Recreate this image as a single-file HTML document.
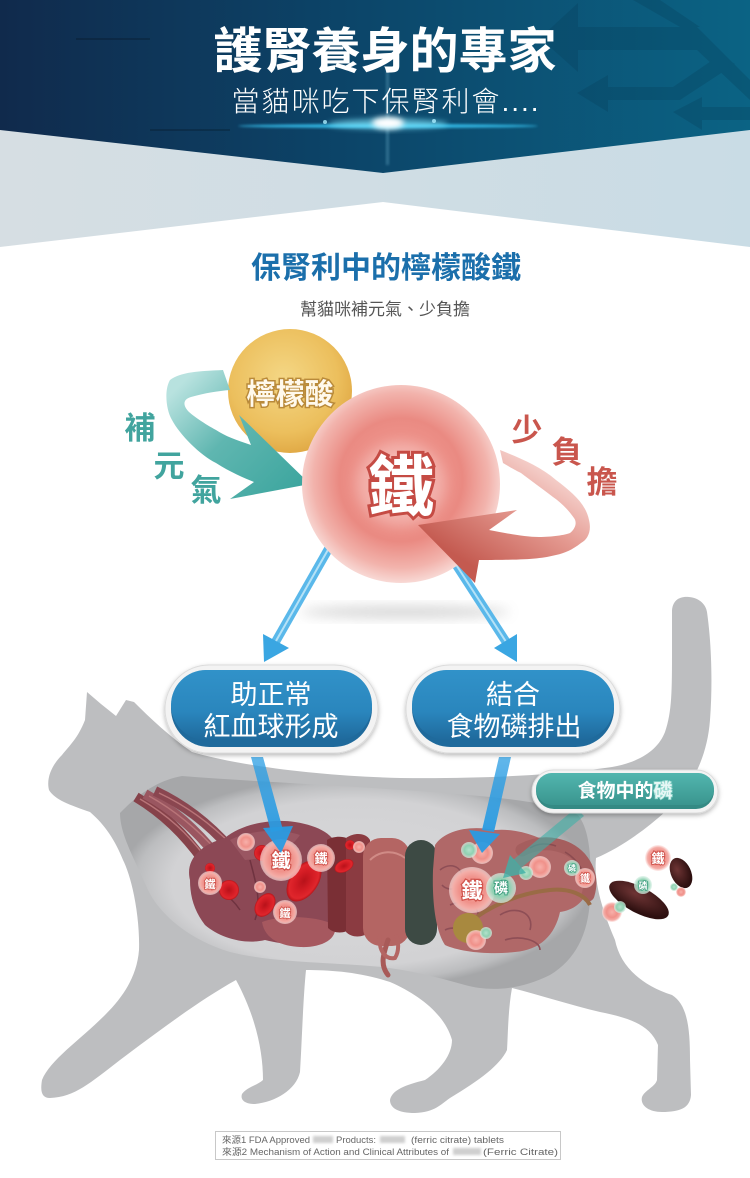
<!DOCTYPE html>
<html><head><meta charset="utf-8"><style>
html,body{margin:0;padding:0;background:#fff;}
body{width:750px;height:1178px;overflow:hidden;}
svg{display:block;}
text{font-family:"Liberation Sans","Noto Sans CJK TC",sans-serif;}
</style></head><body>
<svg width="750" height="1178" viewBox="0 0 750 1178" xmlns="http://www.w3.org/2000/svg">
<defs>
<linearGradient id="hdr" x1="0" y1="0" x2="1" y2="0"><stop offset="0" stop-color="#102a4c"/><stop offset="0.45" stop-color="#0c4468"/><stop offset="1" stop-color="#0b6384"/></linearGradient>
<linearGradient id="lgt" x1="0" y1="0" x2="1" y2="0"><stop offset="0" stop-color="#d6dee3"/><stop offset="1" stop-color="#c9dce5"/></linearGradient>
<radialGradient id="yel" cx="0.45" cy="0.4" r="0.62"><stop offset="0" stop-color="#f4d785"/><stop offset="0.7" stop-color="#ecbf5d"/><stop offset="1" stop-color="#e0a844"/></radialGradient>
<radialGradient id="pnk" cx="0.5" cy="0.48" r="0.52"><stop offset="0" stop-color="#f6b6af"/><stop offset="0.3" stop-color="#ef968e"/><stop offset="0.6" stop-color="#ea8a82"/><stop offset="0.85" stop-color="#f2b3ac"/><stop offset="1" stop-color="#f8d9d5"/></radialGradient>
<linearGradient id="tealA" gradientUnits="userSpaceOnUse" x1="190" y1="375" x2="300" y2="485"><stop offset="0" stop-color="#b8e2df"/><stop offset="0.45" stop-color="#5fb6b0"/><stop offset="1" stop-color="#3ea69f"/></linearGradient>
<linearGradient id="redA" gradientUnits="userSpaceOnUse" x1="540" y1="455" x2="470" y2="565"><stop offset="0" stop-color="#f8dad6"/><stop offset="0.45" stop-color="#e49990"/><stop offset="1" stop-color="#c45a50"/></linearGradient>
<linearGradient id="box" x1="0" y1="0" x2="0" y2="1"><stop offset="0" stop-color="#3192c9"/><stop offset="0.6" stop-color="#2a86bd"/><stop offset="1" stop-color="#1f6a9c"/></linearGradient>
<linearGradient id="tpill" x1="0" y1="0" x2="0" y2="1"><stop offset="0" stop-color="#52b6af"/><stop offset="1" stop-color="#3a958f"/></linearGradient>
<radialGradient id="cav" cx="0.5" cy="0.5" r="0.5"><stop offset="0" stop-color="#d8d8da"/><stop offset="0.78" stop-color="#d2d2d4"/><stop offset="0.93" stop-color="#bcbdbf"/><stop offset="1" stop-color="#a6a7a9"/></radialGradient>
<radialGradient id="bub" cx="0.5" cy="0.5" r="0.5"><stop offset="0" stop-color="#f7b0aa"/><stop offset="0.55" stop-color="#f0918a"/><stop offset="0.82" stop-color="#f4ada7"/><stop offset="1" stop-color="#fde3e1" stop-opacity="0.6"/></radialGradient>
<radialGradient id="gbub" cx="0.5" cy="0.5" r="0.5"><stop offset="0" stop-color="#b3e2cb"/><stop offset="0.6" stop-color="#8fd1b2"/><stop offset="1" stop-color="#d9f1e6" stop-opacity="0.7"/></radialGradient>
<radialGradient id="rbc" cx="0.5" cy="0.5" r="0.5"><stop offset="0" stop-color="#b8121a"/><stop offset="0.5" stop-color="#d41c24"/><stop offset="0.85" stop-color="#e0262c"/><stop offset="1" stop-color="#b5141a"/></radialGradient>
<radialGradient id="poo" cx="0.4" cy="0.35" r="0.6"><stop offset="0" stop-color="#6e3434"/><stop offset="1" stop-color="#2e1010"/></radialGradient>
<linearGradient id="blu" x1="0" y1="0" x2="0" y2="1"><stop offset="0" stop-color="#2d9fe4" stop-opacity="0.75"/><stop offset="1" stop-color="#2a9be2" stop-opacity="0.95"/></linearGradient>
<filter id="b6" x="-50%" y="-50%" width="200%" height="200%"><feGaussianBlur stdDeviation="6"/></filter>
<filter id="b3" x="-50%" y="-50%" width="200%" height="200%"><feGaussianBlur stdDeviation="3"/></filter>
<filter id="b1" x="-50%" y="-50%" width="200%" height="200%"><feGaussianBlur stdDeviation="1.2"/></filter>
<filter id="sh" x="-20%" y="-20%" width="140%" height="150%"><feDropShadow dx="0" dy="2" stdDeviation="2.5" flood-color="#000" flood-opacity="0.28"/></filter>
</defs>

<!-- HEADER -->
<rect x="0" y="0" width="750" height="260" fill="#fff"/>
<polygon points="0,120 750,120 750,247 383,202 0,247" fill="url(#lgt)"/>
<polygon points="0,0 750,0 750,130 383,173 0,130" fill="url(#hdr)"/>
<g fill="#073d58" opacity="0.28">
<polygon points="540,38 578,3 578,27 697,27 750,80 750,100 697,50 578,50 578,72"/>
<polygon points="577,93 608,75 608,87 673,87 720,55 735,64 680,100 608,100 608,112"/>
<polygon points="673,112 702,97 702,107 750,107 750,120 702,120 702,130"/>
<polygon points="633,0 660,0 700,27 680,27"/>
</g>
<g opacity="0.18" stroke="#000" stroke-width="2">
<line x1="76" y1="39" x2="150" y2="39"/><line x1="150" y1="130" x2="230" y2="130"/>
</g>
<rect x="386" y="70" width="3" height="95" fill="#9fe6ff" opacity="0.25" filter="url(#b1)"/>
<ellipse cx="388" cy="126" rx="150" ry="2" fill="#3ad0ff" opacity="0.8" filter="url(#b1)"/>
<ellipse cx="388" cy="124" rx="60" ry="5" fill="#7fe8ff" opacity="0.7" filter="url(#b3)"/>
<ellipse cx="388" cy="123" rx="16" ry="6" fill="#ffffff" filter="url(#b3)"/>
<circle cx="325" cy="122" r="2" fill="#aef" opacity="0.8"/><circle cx="434" cy="121" r="2" fill="#aef" opacity="0.8"/>
<text x="385" y="68" font-size="49" font-weight="700" fill="#fff" text-anchor="middle">護腎養身的專家</text>
<text x="386" y="111" font-size="28" font-weight="300" fill="#fff" text-anchor="middle" letter-spacing="2">當貓咪吃下保腎利會....</text>

<!-- SECTION TITLE -->
<text x="386" y="278" font-size="30" font-weight="700" fill="#1b6fab" text-anchor="middle">保腎利中的檸檬酸鐵</text>
<text x="385" y="315" font-size="17" fill="#555" text-anchor="middle">幫貓咪補元氣、少負擔</text>

<!-- shadow under big circle -->
<ellipse cx="405" cy="612" rx="105" ry="6" fill="#888" opacity="0.35" filter="url(#b6)"/>

<!-- top blue arrows -->
<g>
<line x1="329" y1="548" x2="272" y2="648" stroke="#5ab8ea" stroke-width="9"/>
<line x1="329" y1="548" x2="272" y2="648" stroke="#b5e2f7" stroke-width="2"/>
<polygon points="263,634 289,648 264,662" fill="#3aa6e2"/>
<line x1="455" y1="563" x2="512" y2="651" stroke="#5ab8ea" stroke-width="9"/>
<line x1="455" y1="563" x2="512" y2="651" stroke="#b5e2f7" stroke-width="2"/>
<polygon points="517,634 494,648 517,662" fill="#3aa6e2"/>
</g>

<!-- yellow circle -->
<circle cx="290" cy="391" r="62" fill="url(#yel)"/>
<text x="290" y="404" font-size="29" font-weight="700" fill="#fff9ec" stroke="#b98a3a" stroke-width="3" paint-order="stroke" text-anchor="middle">檸檬酸</text>

<!-- teal arrow -->
<path d="M223,370 C200,371 180,372 170,380 C164,390 166,410 172,420 C180,435 200,455 216,463 C230,472 244,478 254,482 L230,499 L310,484 L239,415 L251,445 C236,440 225,436 216,430 C205,424 193,416 188,411 C182,404 184,399 191,397 C205,393 218,391 230,390 Z" fill="url(#tealA)"/>

<!-- pink circle -->
<circle cx="401" cy="484" r="99" fill="url(#pnk)"/>
<ellipse cx="401" cy="484" rx="45" ry="42" fill="#fff" opacity="0.25" filter="url(#b6)"/>
<text x="401" y="510" font-size="66" font-weight="700" fill="#fff" stroke="#c54b44" stroke-width="6" paint-order="stroke" text-anchor="middle">鐵</text>

<!-- red arrow -->
<path d="M500,450 C520,458 540,466 556,480 C572,492 586,504 589,520 C592,532 587,540 581,543 C572,550 565,553 556,555 C540,559 525,560 479,560 L475,583 L418,525 L517,510 L489,530 C510,534 525,537 539,537 C552,537 565,535 570,533 C576,528 577,522 574,518 C567,508 560,502 553,497 C540,487 530,480 521,473 C513,469 508,466 503,463 Z" fill="url(#redA)"/>

<!-- side words -->
<g font-size="31" font-weight="700" text-anchor="middle" stroke="#fff" stroke-width="4" paint-order="stroke">
<text x="140" y="439" fill="#41a49e">補</text>
<text x="169" y="477" fill="#41a49e">元</text>
<text x="206" y="501" fill="#41a49e">氣</text>
<text x="527" y="441" fill="#c9564d">少</text>
<text x="567" y="463" fill="#c9564d">負</text>
<text x="602" y="493" fill="#c9564d">擔</text>
</g>

<!-- CAT -->
<path d="M87,692 L101,704 L116,716 L126,700 L134,702 C150,718 170,737 192,752 C240,766 320,776 400,778 C480,779 560,775 612,767 C640,762 658,750 665,732 C672,712 672,690 672,650 L672,612 C672,600 680,596 689,597 C700,598 706,605 707,612 C711,640 713,680 710,720 C707,760 690,790 665,812 C645,830 620,848 596,858 C594,880 600,905 615,940 C620,965 640,985 672,995 C688,1005 690,1030 690,1060 L691,1095 C690,1108 680,1112 662,1112 C648,1112 640,1105 642,1097 C645,1090 655,1087 657,1080 L658,1045 C650,1025 630,1018 600,1012 C570,1005 540,995 512,988 C508,1010 508,1035 507,1050 C500,1065 480,1080 450,1098 C440,1105 435,1112 415,1113 C398,1113 390,1108 390,1100 C392,1090 405,1085 425,1080 C440,1070 452,1055 452,1040 C445,1015 420,995 390,982 C360,972 330,970 306,970 C303,1000 302,1040 300,1072 C296,1090 275,1102 255,1104 C245,1104 240,1100 242,1094 C247,1087 258,1085 263,1080 C263,1050 255,1015 236,980 C200,1000 160,1030 120,1060 C90,1083 75,1097 50,1098 C42,1098 40,1092 42,1080 C50,1060 80,1040 105,1015 C125,995 137,975 139,950 C140,920 133,880 123,860 C115,840 105,825 90,812 C70,805 55,800 49,790 C46,778 52,765 62,755 C70,745 78,738 85,720 Z" fill="#bdbec0"/>
<path d="M120,813 C140,792 160,780 182,776 C260,782 350,786 431,792 C500,797 555,803 578,815 C590,830 592,860 590,900 C588,935 575,960 550,975 C520,990 490,992 465,985 C430,975 400,968 370,966 C320,962 270,962 230,952 C190,940 160,915 148,890 C135,860 120,835 120,813 Z" fill="url(#cav)"/>

<!-- organs -->
<g>
<path d="M136,797 C164,814 184,834 203,860" stroke="#86424a" stroke-width="10" fill="none"/>
<path d="M145,794 C174,810 196,830 216,855" stroke="#9a5660" stroke-width="10" fill="none"/>
<path d="M155,791 C185,805 209,824 230,848" stroke="#8a4650" stroke-width="10" fill="none"/>
<path d="M140,799 C168,815 188,834 206,858 M149,796 C178,812 200,832 219,853 M159,793 C189,807 213,826 233,846" stroke="#b87478" stroke-width="1.5" fill="none"/>
<path d="M190,880 C185,860 200,845 225,838 C240,825 270,818 295,822 C320,826 335,835 338,850 C342,880 340,915 330,935 C310,948 285,945 265,940 C245,945 220,938 205,925 C195,912 190,898 190,880 Z" fill="#8c4855"/>
<path d="M230,840 C250,830 280,828 300,835 C290,850 270,858 245,860 Z" fill="#a05c68" opacity="0.7"/>
<path d="M200,890 C215,885 230,895 240,910 M250,860 C255,880 262,900 255,920" stroke="#6f3340" stroke-width="1.5" fill="none"/>
<path d="M262,922 C280,915 315,915 335,925 C338,940 320,948 300,947 C282,946 265,940 262,922 Z" fill="#a6585f"/>
<path d="M327,840 C335,835 348,836 352,842 L352,928 C345,934 334,934 328,928 Z" fill="#7a2f35"/>
<path d="M346,838 C355,832 366,833 370,840 L370,932 C362,938 352,938 346,932 Z" fill="#8b3b41"/>
<rect x="363" y="838" width="47" height="108" rx="18" fill="#b46563"/>
<path d="M370,860 C380,850 395,850 405,858" stroke="#d08b86" stroke-width="2" fill="none"/>
<path d="M388,940 C383,955 380,965 388,975" stroke="#a85a58" stroke-width="5" fill="none" stroke-linecap="round"/>
<path d="M380,935 C378,950 385,960 395,958 C400,950 398,940 396,935" stroke="#b46563" stroke-width="4" fill="none"/>
<rect x="405" y="840" width="32" height="105" rx="16" fill="#3d4a44"/>
<path d="M435,845 C445,830 470,825 495,830 C520,828 540,838 555,845 C575,848 590,860 590,880 C588,900 575,910 560,912 C555,935 540,950 515,952 C490,955 460,952 445,945 C435,930 432,900 433,870 Z" fill="#b06868"/>
<path d="M440,870 C450,862 462,866 462,878 C462,890 448,892 442,885 M450,905 C465,898 480,905 478,918 M500,915 C515,905 535,912 530,930 M505,940 C520,935 540,940 540,950 M445,930 C455,925 470,930 468,942" stroke="#8e4e56" stroke-width="1.6" fill="none"/>
<path d="M522,850 C545,838 568,845 580,858 C590,870 592,882 588,895" stroke="#a55e5e" stroke-width="13" fill="none" stroke-linecap="round"/>
<path d="M530,848 C538,843 548,843 556,846 M565,852 C572,856 578,862 582,870" stroke="#8b4b50" stroke-width="1.5" fill="none"/>
<path d="M466,925 C490,905 520,893 550,890 C570,888 585,895 590,905" stroke="#9a6b45" stroke-width="4" fill="none"/>
<circle cx="468" cy="928" r="15" fill="#a8893f"/>
</g>

<!-- red blood cells -->
<g>
<ellipse cx="304" cy="881" rx="23" ry="14" transform="rotate(-55 304 881)" fill="url(#rbc)"/>
<ellipse cx="265" cy="905" rx="13" ry="9" transform="rotate(-55 265 905)" fill="url(#rbc)"/>
<circle cx="262" cy="853" r="8" fill="url(#rbc)"/>
<circle cx="229" cy="890" r="10" fill="url(#rbc)"/>
<ellipse cx="344" cy="866" rx="10" ry="6" transform="rotate(-25 344 866)" fill="url(#rbc)"/>
<circle cx="350" cy="845" r="5" fill="url(#rbc)"/>
<circle cx="210" cy="868" r="5" fill="url(#rbc)"/>
</g>

<!-- bubbles -->
<g>
<circle cx="246" cy="842" r="9" fill="url(#bub)"/>
<circle cx="359" cy="847" r="6" fill="url(#bub)"/>
<circle cx="260" cy="887" r="6" fill="url(#bub)"/>
<circle cx="281" cy="860" r="21" fill="url(#bub)"/>
<circle cx="321" cy="858" r="14" fill="url(#bub)"/>
<circle cx="210" cy="883" r="12" fill="url(#bub)"/>
<circle cx="285" cy="912" r="12" fill="url(#bub)"/>
<circle cx="472" cy="890" r="23" fill="url(#bub)"/>
<circle cx="482" cy="853" r="11" fill="url(#bub)"/>
<circle cx="540" cy="867" r="11" fill="url(#bub)"/>
<circle cx="585" cy="878" r="10" fill="url(#bub)"/>
<circle cx="476" cy="940" r="10" fill="url(#bub)"/>
<circle cx="469" cy="850" r="8" fill="url(#gbub)"/>
<circle cx="526" cy="873" r="7" fill="url(#gbub)"/>
<circle cx="501" cy="888" r="15" fill="url(#gbub)"/>
<circle cx="572" cy="868" r="8" fill="url(#gbub)"/>
<circle cx="486" cy="933" r="6" fill="url(#gbub)"/>
</g>
<g text-anchor="middle" font-weight="700" fill="#fff" stroke="#d0534c" paint-order="stroke">
<text x="281" y="867" font-size="19" stroke-width="2.5">鐵</text>
<text x="321" y="863" font-size="13" stroke-width="2">鐵</text>
<text x="210" y="888" font-size="11" stroke-width="1.8">鐵</text>
<text x="285" y="917" font-size="11" stroke-width="1.8">鐵</text>
<text x="472" y="898" font-size="21" stroke-width="2.5">鐵</text>
<text x="585" y="882" font-size="10" stroke-width="1.6">鐵</text>
</g>
<g text-anchor="middle" font-weight="700" fill="#fff" stroke="#3f9f80" paint-order="stroke">
<text x="501" y="893" font-size="14" stroke-width="2">磷</text>
<text x="572" y="871" font-size="8" stroke-width="1.3">磷</text>
</g>

<!-- poop and outside bubbles -->
<ellipse cx="639" cy="900" rx="33" ry="13" transform="rotate(28 639 900)" fill="url(#poo)"/>
<ellipse cx="681" cy="873" rx="10" ry="16" transform="rotate(-25 681 873)" fill="url(#poo)"/>
<circle cx="658" cy="858" r="13" fill="url(#bub)"/>
<circle cx="612" cy="912" r="10" fill="url(#bub)"/>
<circle cx="681" cy="892" r="5" fill="url(#bub)"/>
<circle cx="643" cy="885" r="9" fill="url(#gbub)"/>
<circle cx="620" cy="907" r="6" fill="url(#gbub)"/>
<circle cx="674" cy="887" r="4" fill="url(#gbub)"/>
<text x="658" y="863" font-size="13" font-weight="700" fill="#fff" stroke="#d0534c" stroke-width="2" paint-order="stroke" text-anchor="middle">鐵</text>
<text x="643" y="889" font-size="9" font-weight="700" fill="#fff" stroke="#3f9f80" stroke-width="1.5" paint-order="stroke" text-anchor="middle">磷</text>

<!-- arrows into body -->
<g>
<polygon points="251,757 263,757 283,830 271,832" fill="url(#blu)"/>
<polygon points="263,828 293,826 281,853" fill="#2a9be2" opacity="0.95"/>
<polygon points="499,757 511,757 494,832 482,830" fill="url(#blu)"/>
<polygon points="469,830 500,834 482,853" fill="#2a9be2" opacity="0.95"/>
<polygon points="576,808 584,816 521,868 513,860" fill="#3fb0a8" opacity="0.6"/>
<polygon points="526,873 510,855 503,878" fill="#3fb0a8" opacity="0.8"/>
</g>

<!-- boxes -->
<g filter="url(#sh)">
<rect x="165" y="665" width="213" height="88" rx="44" fill="#f3f3f3" stroke="#dcdcdc"/>
<rect x="406" y="665" width="214" height="88" rx="44" fill="#f3f3f3" stroke="#dcdcdc"/>
<rect x="532" y="770" width="186" height="43" rx="21.5" fill="#f3f3f3" stroke="#dcdcdc"/>
</g>
<rect x="171" y="670" width="201" height="77" rx="38.5" fill="#1f6a9c"/>
<rect x="171" y="670" width="201" height="70" rx="35" fill="url(#box)"/>
<rect x="412" y="670" width="202" height="77" rx="38.5" fill="#1f6a9c"/>
<rect x="412" y="670" width="202" height="70" rx="35" fill="url(#box)"/>
<rect x="536" y="773" width="178" height="36" rx="18" fill="#348a84"/>
<rect x="536" y="773" width="178" height="32" rx="16" fill="url(#tpill)"/>
<g font-size="27" fill="#fff" text-anchor="middle">
<text x="271" y="704">助正常</text>
<text x="271" y="736">紅血球形成</text>
<text x="513" y="704">結合</text>
<text x="514" y="736">食物磷排出</text>
</g>
<text x="625" y="797" font-size="19" font-weight="700" fill="#fff" text-anchor="middle">食物中的<tspan fill="#e6f7f5" stroke="#8fd6cc" stroke-width="1.5" paint-order="stroke">磷</tspan></text>

<!-- footer -->
<rect x="215.5" y="1131.5" width="345" height="28" fill="#fff" stroke="#c8c8c8"/>
<g font-size="9" fill="#666">
<text x="222" y="1143" textLength="88" lengthAdjust="spacingAndGlyphs">來源1 FDA Approved</text>
<text x="336" y="1143" textLength="40" lengthAdjust="spacingAndGlyphs">Products:</text>
<text x="411" y="1143" textLength="93" lengthAdjust="spacingAndGlyphs">(ferric citrate) tablets</text>
<text x="222" y="1155" textLength="227" lengthAdjust="spacingAndGlyphs">來源2 Mechanism of Action and Clinical Attributes of</text>
<text x="483" y="1155" textLength="75" lengthAdjust="spacingAndGlyphs">(Ferric Citrate)</text>
</g>
<g fill="#cfcfcf" filter="url(#b1)">
<rect x="313" y="1136" width="20" height="7"/>
<rect x="380" y="1136" width="25" height="7"/>
<rect x="453" y="1148" width="28" height="7"/>
</g>
</svg>
</body></html>
